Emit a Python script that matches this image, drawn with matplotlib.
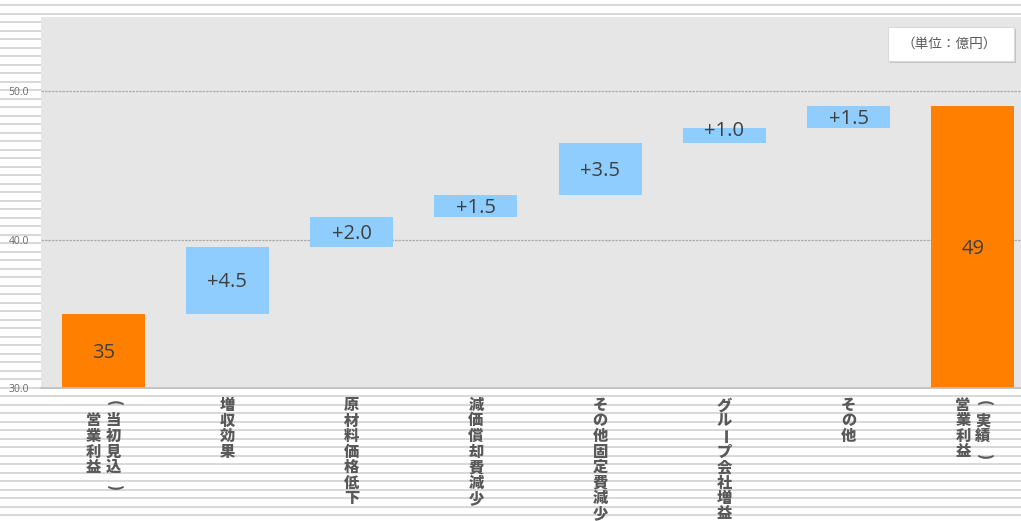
import matplotlib
matplotlib.use("Agg")
import matplotlib.pyplot as plt
import matplotlib.transforms as mtransforms
from matplotlib.patches import Rectangle
import numpy as np

# ---- data ----
categories = ["営業利益\n（当初見込）", "増収効果", "原材料価格低下", "減価償却費減少",
              "その他固定費減少", "グループ会社増益", "その他", "営業利益\n（実績）"]
start_value = 35
deltas = [4.5, 2.0, 1.5, 3.5, 1.0, 1.5]
end_value = 49
yticks = [30, 40, 50]
ytick_labels = ["30.0", "40.0", "50.0"]
unit_label = "（単位：億円）"

ORANGE = "#FF8000"
BLUE = "#8FCDFF"
TXT = "#595959"

W, H = 1021, 521
fig = plt.figure(figsize=(W / 100, H / 100), dpi=100)
fig.patch.set_facecolor("white")

# notebook-like background lines
bg = fig.add_axes([0, 0, 1, 1], zorder=0)
bg.set_xlim(0, W)
bg.set_ylim(H, 0)
bg.axis("off")
for yy in np.arange(5, H, 8.5):
    bg.axhline(yy, color="#d6d6d6", lw=1.3)

ax = fig.add_axes([41 / W, (H - 388) / H, (1035 - 41) / W, (388 - 17) / H], zorder=1)
ax.set_facecolor("#E6E6E6")

n = len(categories)
x = np.arange(n)
bottoms = [0] + list(start_value + np.concatenate([[0], np.cumsum(deltas)[:-1]])) + [0]
heights = [start_value] + deltas + [end_value]
colors = [ORANGE] + [BLUE] * len(deltas) + [ORANGE]

# label vertical nudge (pixels), styling only
label_nudge = {5: 7}

ax.set_ylim(30, 55)
ax.set_xlim(-0.5, n - 0.5)
data_tr = ax.transData
for i in range(n):
    if i == 0 or i == n - 1:
        b, h = 0, heights[i]
    else:
        b, h = bottoms[i], heights[i]
    ax.bar(x[i], h, bottom=b, width=0.667, color=colors[i], zorder=3)
    lbl = f"{heights[i]:g}" if (i == 0 or i == n - 1) else f"+{heights[i]:.1f}"
    yc = (max(b, 30) + b + h) / 2
    tr = mtransforms.offset_copy(data_tr, fig=fig, x=0, y=-2 + label_nudge.get(i, 0), units="dots")
    ax.text(x[i], yc, lbl, ha="center", va="center", fontsize=14.5, transform=tr,
            family=["Open Sans", "DejaVu Sans"], color="#404040", zorder=4)

ax.set_yticks(yticks)
ax.set_yticklabels(ytick_labels, family=["Open Sans", "DejaVu Sans"], fontsize=7.5, color="#6a6a6a")
ax.tick_params(axis="y", length=0, pad=8.5)
ax.tick_params(axis="x", length=0, labelbottom=False)
for yv in yticks[1:]:
    ax.axhline(yv, color="#ababab", lw=0.9, ls=(0, (2, 0.8)), zorder=2)
for s in ["top", "right", "left"]:
    ax.spines[s].set_visible(False)
ax.spines["bottom"].set_color("#bfbfbf")
ax.spines["bottom"].set_linewidth(1.2)
ax.spines["bottom"].set_zorder(5)

# vertical (stacked) category labels
base = ax.get_xaxis_transform()
pitch = 15.5
for i, lab in enumerate(categories):
    cols = lab.split("\n")
    maxlen = max(len(c) for c in cols)
    ncol = len(cols)
    for ci, col in enumerate(cols):
        dx = (ci - (ncol - 1) / 2) * 20
        off0 = (maxlen - len(col)) * pitch / 2
        for k, ch in enumerate(col):
            dy = -(17.5 + off0 + k * pitch)
            rot = 0
            c = ch
            if ch in "（）":
                rot = -90
                c = "(" if ch == "（" else ")"
                dy += 2 if ch == "（" else -4
            elif ch == "ー":
                rot = -90
            tr = mtransforms.offset_copy(base, fig=fig, x=dx, y=dy, units="dots")
            ax.text(x[i], 0, c, transform=tr, ha="center", va="center", rotation=rot,
                    fontsize=11, fontweight="black", color=TXT,
                    family=["Noto Sans CJK JP", "DejaVu Sans"], clip_on=False)

# unit box
ov = fig.add_axes([0, 0, 1, 1], zorder=6)
ov.set_xlim(0, W)
ov.set_ylim(H, 0)
ov.axis("off")
ov.add_patch(Rectangle((890, 29), 126, 34, facecolor="#c4c4c4", edgecolor="none"))
ov.add_patch(Rectangle((888, 27), 126, 34, facecolor="white", edgecolor="#d9d9d9", lw=0.8))
ov.text(949, 44, unit_label, ha="center", va="center", fontsize=9.8, color=TXT,
        family=["Noto Sans CJK JP", "DejaVu Sans"])

fig.savefig("out.png", dpi=100)
